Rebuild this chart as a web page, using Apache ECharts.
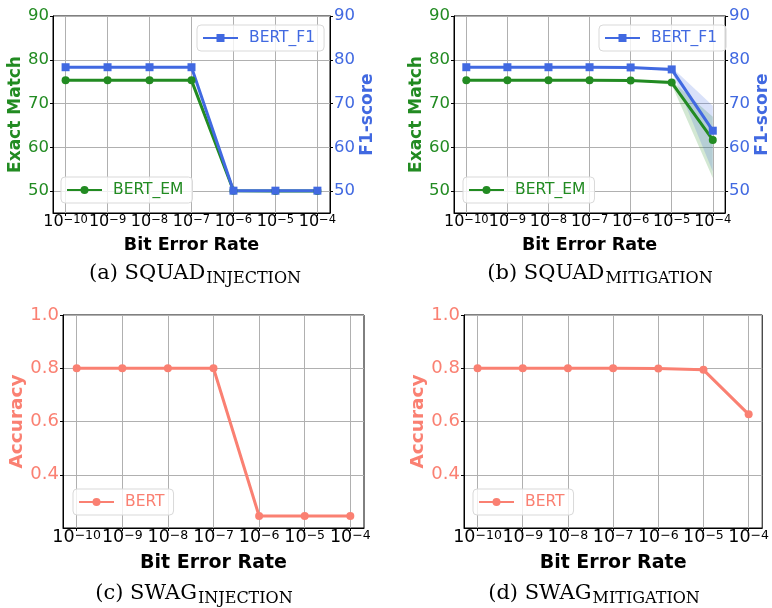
<!DOCTYPE html>
<html><head><meta charset="utf-8">
<script src="https://cdn.jsdelivr.net/npm/echarts@6/dist/echarts.min.js"></script>
<style>html,body{margin:0;padding:0;background:#fff}#c{width:772px;height:608px}</style>
</head><body><div id="c"></div><script>
// ---- data ----
const berExp = [-10, -9, -8, -7, -6, -5, -4];
const xTickExps = ['−10', '−9', '−8', '−7', '−6', '−5', '−4'];
const squadTicks = [50, 60, 70, 80, 90];
const accTicks = [0.4, 0.6, 0.8, 1.0];

const squadInjEM = [75.3, 75.3, 75.3, 75.3, 50.1, 50.0, 50.0];
const squadInjF1 = [78.3, 78.3, 78.3, 78.3, 50.1, 50.1, 50.1];

const squadMitEM = [75.3, 75.3, 75.3, 75.3, 75.25, 74.8, 61.7];
const squadMitF1 = [78.3, 78.3, 78.3, 78.3, 78.25, 77.8, 63.8];
const squadMitEMLow  = [75.3, 75.3, 75.3, 75.3, 75.2, 74.3, 53.0];
const squadMitEMHigh = [75.3, 75.3, 75.3, 75.3, 75.3, 75.2, 67.0];
const squadMitF1Low  = [78.3, 78.3, 78.3, 78.3, 78.2, 77.4, 54.5];
const squadMitF1High = [78.3, 78.3, 78.3, 78.3, 78.3, 78.3, 69.5];

const swagInjAcc = [0.80, 0.80, 0.80, 0.80, 0.245, 0.245, 0.245];
const swagMitAcc = [0.80, 0.80, 0.80, 0.80, 0.799, 0.794, 0.627];

// ---- styling ----
const GREEN = '#228B22', BLUE = '#4169E1', SALMON = '#FA8072';
const FONT = 'DejaVu Sans';
const pts = arr => berExp.map((x, i) => [x, arr[i]]);

const grids = [
  {left: 53, top: 16, width: 277, height: 197},
  {left: 454, top: 16, width: 277, height: 197},
  {left: 63, top: 315, width: 301, height: 213},
  {left: 464, top: 315, width: 302, height: 213}
].map(g => Object.assign(g, {show: true, borderColor: '#000', borderWidth: 1, backgroundColor: 'transparent'}));

function xAxis(gi, big) {
  const fs = big ? 17.5 : 16, ss = big ? 12.5 : 11.5;
  return {
    type: 'value', gridIndex: gi, min: -10.3, max: -3.7,
    axisLine: {show: true, onZero: false, lineStyle: {color: '#000', width: 1}},
    axisTick: {show: true, customValues: berExp, length: 3, lineStyle: {color: '#000'}},
    splitLine: {show: true, lineStyle: {color: '#b0b0b0', width: 1}},
    axisLabel: {
      customValues: berExp, margin: 1, showMinLabel: true, showMaxLabel: true, hideOverlap: false,
      formatter: v => '{b|10}{s|' + xTickExps[berExp.indexOf(Math.round(v))] + '}',
      rich: {
        b: {fontSize: fs, fontFamily: FONT, color: '#000', lineHeight: fs, verticalAlign: 'bottom'},
        s: {fontSize: ss, fontFamily: FONT, color: '#000', lineHeight: ss, verticalAlign: 'top', padding: [0, 0, Math.round(fs * 0.62), 0]}
      }
    },
    name: 'Bit Error Rate', nameLocation: 'middle', nameGap: big ? 20 : 17,
    nameTextStyle: {fontFamily: FONT, fontWeight: 'bold', fontSize: big ? 19 : 17.5, color: '#000'}
  };
}

function yAxis(gi, pos, name, color, min, max, ticks, big, grid, gap, fmt) {
  return {
    type: 'value', gridIndex: gi, position: pos, min: min, max: max,
    axisLine: {show: true, onZero: false, lineStyle: {color: '#000', width: 1}},
    axisTick: {show: true, customValues: ticks, length: 3, lineStyle: {color: '#000'}},
    splitLine: {show: grid, lineStyle: {color: '#b0b0b0', width: 1}},
    axisLabel: {customValues: ticks, margin: 4, color: color, fontFamily: FONT, fontSize: big ? 18 : 16.5,
      formatter: fmt || (v => String(v))},
    name: name, nameLocation: 'middle', nameGap: gap,
    nameTextStyle: {fontFamily: FONT, fontWeight: 'bold', fontSize: big ? 18.5 : 17, color: color}
  };
}

function lineSeries(name, xi, yi, data, color, symbol, size) {
  return {
    type: 'line', name: name, xAxisIndex: xi, yAxisIndex: yi, data: pts(data),
    symbol: symbol, symbolSize: size, showSymbol: true,
    lineStyle: {color: color, width: 3}, itemStyle: {color: color}, z: 3
  };
}

function bandSeries(xi, yi, low, high, fill) {
  return {
    type: 'custom', xAxisIndex: xi, yAxisIndex: yi, silent: true, z: 1,
    data: [[berExp[0], low[0]]],
    renderItem: (params, api) => {
      const p = [];
      berExp.forEach((x, i) => p.push(api.coord([x, high[i]])));
      for (let i = berExp.length - 1; i >= 0; i--) p.push(api.coord([berExp[i], low[i]]));
      return {type: 'polygon', shape: {points: p}, style: {fill: fill}};
    }
  };
}

function legend(name, left, top, color) {
  return {
    data: [name], left: left, top: top, orient: 'horizontal',
    itemWidth: 35, itemHeight: 10, padding: [5, 9, 5, 5],
    backgroundColor: 'rgba(255,255,255,0.8)', borderColor: '#d9d9d9', borderWidth: 1, borderRadius: 4,
    textStyle: {color: color, fontFamily: FONT, fontSize: 15.5, padding: [0, 0, 0, 6]},
    selectedMode: false
  };
}

function caption(x, y, label, main, sub) {
  return {
    type: 'text', x: x, y: y,
    style: {
      text: '{n|' + label + ' ' + main + '}{s|' + sub + '}',
      align: 'center', verticalAlign: 'middle',
      rich: {
        n: {fontSize: 21, fontFamily: 'DejaVu Serif', fill: '#000', lineHeight: 24, verticalAlign: 'top'},
        s: {fontSize: 16, fontFamily: 'DejaVu Serif', fill: '#000', lineHeight: 16, verticalAlign: 'bottom', padding: [10, 0, 0, 1]}
      }
    }
  };
}

const accFmt = v => v.toFixed(1);

const option = {
  animation: false,
  backgroundColor: '#fff',
  grid: grids,
  xAxis: [xAxis(0, false), xAxis(1, false), xAxis(2, true), xAxis(3, true)],
  yAxis: [
    yAxis(0, 'left', 'Exact Match', GREEN, 45, 90, squadTicks, false, true, 28),
    yAxis(0, 'right', 'F1-score', BLUE, 45, 90, squadTicks, false, false, 26),
    yAxis(1, 'left', 'Exact Match', GREEN, 45, 90, squadTicks, false, true, 28),
    yAxis(1, 'right', 'F1-score', BLUE, 45, 90, squadTicks, false, false, 26),
    yAxis(2, 'left', 'Accuracy', SALMON, 0.2, 1.0, accTicks, true, true, 35, accFmt),
    yAxis(3, 'left', 'Accuracy', SALMON, 0.2, 1.0, accTicks, true, true, 35, accFmt)
  ],
  legend: [
    legend('BERT_F1', 197, 25, BLUE),
    legend('BERT_EM', 61, 177, GREEN),
    legend('BERT_F1', 599, 25, BLUE),
    legend('BERT_EM', 463, 177, GREEN),
    legend('BERT', 73, 489, SALMON),
    legend('BERT', 473, 489, SALMON)
  ],
  series: [
    lineSeries('BERT_EM', 0, 0, squadInjEM, GREEN, 'circle', 8),
    lineSeries('BERT_F1', 0, 1, squadInjF1, BLUE, 'rect', 8),
    bandSeries(1, 2, squadMitEMLow, squadMitEMHigh, 'rgba(34,139,34,0.2)'),
    bandSeries(1, 3, squadMitF1Low, squadMitF1High, 'rgba(65,105,225,0.2)'),
    lineSeries('BERT_EM', 1, 2, squadMitEM, GREEN, 'circle', 8),
    lineSeries('BERT_F1', 1, 3, squadMitF1, BLUE, 'rect', 8),
    lineSeries('BERT', 2, 4, swagInjAcc, SALMON, 'circle', 8),
    lineSeries('BERT', 3, 5, swagMitAcc, SALMON, 'circle', 8)
  ],
  graphic: [
    caption(195, 275, '(a)', 'SQUAD', 'INJECTION'),
    caption(600, 275, '(b)', 'SQUAD', 'MITIGATION'),
    caption(194, 595, '(c)', 'SWAG', 'INJECTION'),
    caption(594, 595, '(d)', 'SWAG', 'MITIGATION')
  ]
};
const chart = echarts.init(document.getElementById('c'), null, {renderer: 'canvas'});
chart.setOption(option);
</script></body></html>
